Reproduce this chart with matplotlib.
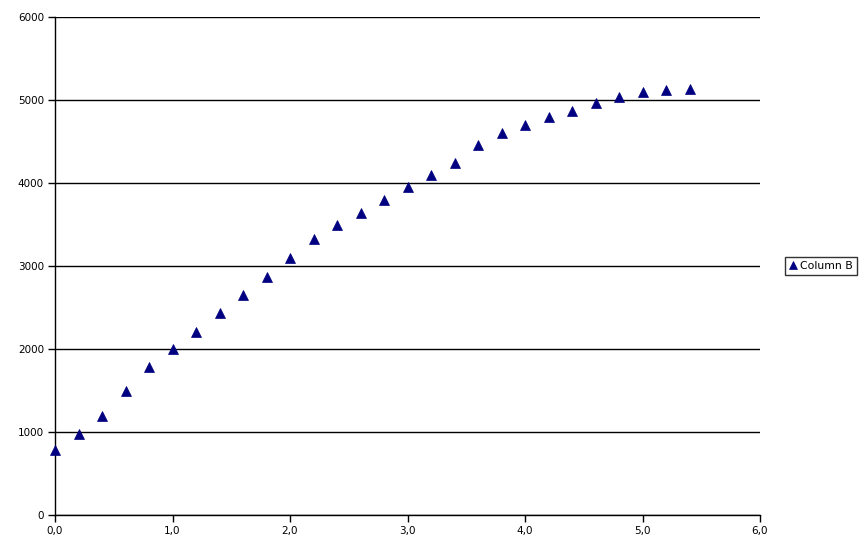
import matplotlib
matplotlib.use("Agg")
import matplotlib.pyplot as plt
from matplotlib.ticker import FuncFormatter

x = [0.0, 0.2, 0.4, 0.6, 0.8, 1.0, 1.2, 1.4, 1.6, 1.8, 2.0, 2.2, 2.4, 2.6,
     2.8, 3.0, 3.2, 3.4, 3.6, 3.8, 4.0, 4.2, 4.4, 4.6, 4.8, 5.0, 5.2, 5.4]
column_b = [780, 980, 1190, 1490, 1780, 2000, 2210, 2430, 2650, 2870, 3100,
            3320, 3500, 3640, 3800, 3950, 4100, 4240, 4460, 4600, 4700, 4800,
            4870, 4960, 5040, 5100, 5120, 5130]
x_ticks = [0, 1, 2, 3, 4, 5, 6]
y_ticks = [0, 1000, 2000, 3000, 4000, 5000, 6000]

fig = plt.figure(figsize=(8.67, 5.48), dpi=100)
ax = fig.add_axes([55/867, 1 - 515/548, (760-55)/867, (515-17)/548])

ax.plot(x, column_b, linestyle='none', marker='^', markersize=7,
        color='#000080', markeredgecolor='#000080', markeredgewidth=0.5,
        label='Column B', clip_on=False, zorder=3)

ax.set_xlim(0, 6)
ax.set_ylim(0, 6000)
ax.set_xticks(x_ticks)
ax.set_yticks(y_ticks)
ax.xaxis.set_major_formatter(FuncFormatter(lambda v, p: f"{v:.1f}".replace('.', ',')))
ax.yaxis.set_major_formatter(FuncFormatter(lambda v, p: f"{int(v)}"))
ax.grid(axis='y', color='black', linewidth=1)
ax.set_axisbelow(True)
for s in ['top', 'right']:
    ax.spines[s].set_visible(False)
ax.spines['left'].set_linewidth(1)
ax.spines['bottom'].set_linewidth(1)
ax.tick_params(axis='both', direction='out', length=5, width=1, labelsize=7.5,
               colors='black', pad=3)

leg = ax.legend(loc='center left', bbox_to_anchor=((785-55)/(760-55), 0.5),
                frameon=True, fancybox=False, fontsize=7.8, handlelength=0.6,
                handletextpad=0.4, borderpad=0.4, markerscale=0.75,
                borderaxespad=0)
leg.get_frame().set_edgecolor('black')
leg.get_frame().set_linewidth(1)

fig.savefig("out.png", dpi=100)
